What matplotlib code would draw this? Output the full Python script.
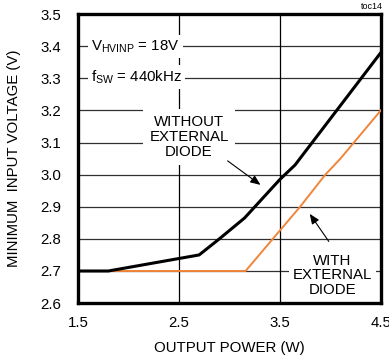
import matplotlib
matplotlib.use("Agg")
import matplotlib.pyplot as plt

plt.rcParams['font.family'] = ['Liberation Sans', 'DejaVu Sans']

# Data
power_without = [1.5, 1.8, 2.7, 2.9, 3.15, 3.5, 3.65, 4.5]
vmin_without = [2.70, 2.70, 2.75, 2.80, 2.865, 2.985, 3.03, 3.38]
power_with = [1.5, 3.16, 3.43, 3.70, 3.95, 4.1, 4.5]
vmin_with = [2.70, 2.70, 2.80, 2.90, 3.00, 3.05, 3.20]
xticks = [1.5, 2.5, 3.5, 4.5]
xticklabels = ["1.5", "2.5", "3.5", "4.5"]
yticks = [2.6, 2.7, 2.8, 2.9, 3.0, 3.1, 3.2, 3.3, 3.4, 3.5]
yticklabels = ["2.6", "2.7", "2.8", "2.9", "3.0", "3.1", "3.2", "3.3", "3.4", "3.5"]

FS = 10.8

fig = plt.figure(figsize=(3.89, 3.60), dpi=100)
ax = fig.add_axes([0.2005, 0.158, 0.7785, 0.803])

ax.set_xlim(1.5, 4.5)
ax.set_ylim(2.6, 3.5)
ax.set_xticks(xticks)
ax.set_xticklabels(xticklabels)
ax.set_yticks(yticks)
ax.set_yticklabels(yticklabels)
ax.tick_params(length=0, labelsize=FS, pad=12)
ax.tick_params(axis='x', pad=9)

for y in yticks[1:-1]:
    ax.axhline(y, color='#303030', lw=0.9, zorder=1)
for x in xticks[1:-1]:
    ax.axvline(x, color='black', lw=0.9, zorder=1)

for s in ax.spines.values():
    s.set_linewidth(2.4)
    s.set_color('black')

ax.plot(power_with, vmin_with, color='#F0853A', lw=1.4, zorder=3)
ax.plot(power_without, vmin_without, color='black', lw=2.2, zorder=4)

ax.set_xlabel("OUTPUT POWER (W)", fontsize=FS, labelpad=8)
ax.set_ylabel("MINIMUM  INPUT VOLTAGE (V)", fontsize=FS, labelpad=14)

bbox = dict(boxstyle='square,pad=0.2', fc='white', ec='none')
ax.text(1.63, 3.40, r"V$_{\mathregular{HVINP}}$ = 18V", fontsize=FS, va='center', ha='left',
        bbox=bbox, zorder=5)
ax.text(1.63, 3.305, r"f$_{\mathregular{SW}}$ = 440kHz", fontsize=FS, va='center', ha='left',
        bbox=bbox, zorder=5)

ax.text(2.60, 3.117, "WITHOUT\nEXTERNAL\nDIODE", fontsize=FS, ha='center', va='center',
        linespacing=1.1, bbox=dict(boxstyle='square,pad=0.4', fc='white', ec='none'), zorder=5)
ax.text(4.02, 2.687, "WITH\nEXTERNAL\nDIODE", fontsize=FS, ha='center', va='center',
        linespacing=1.05, bbox=dict(boxstyle='square,pad=0.25', fc='white', ec='none'), zorder=5)

ax.annotate("", xy=(3.33, 2.963), xytext=(2.96, 3.048),
            arrowprops=dict(arrowstyle='-|>,head_length=0.6,head_width=0.25', color='black', lw=0.8),
            zorder=6)
ax.annotate("", xy=(3.78, 2.885), xytext=(4.0, 2.785),
            arrowprops=dict(arrowstyle='-|>,head_length=0.6,head_width=0.25', color='black', lw=0.8),
            zorder=6)

fig.text(0.985, 0.995, "toc14", fontsize=6.5, ha='right', va='top')

fig.savefig("out.png", dpi=100)
